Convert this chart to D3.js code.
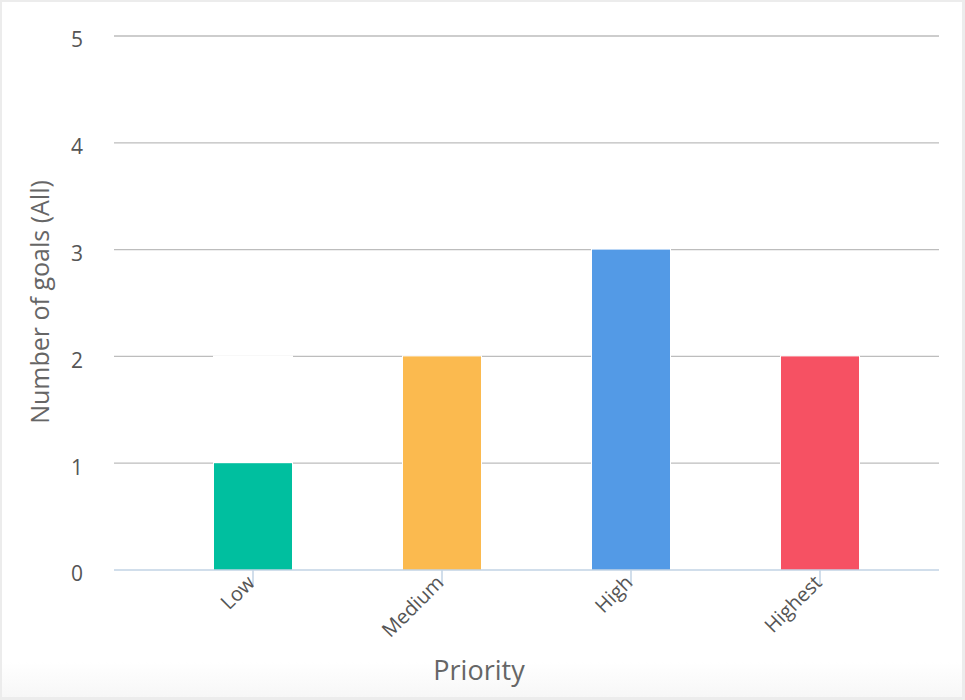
<!DOCTYPE html>
<html>
<head>
<meta charset="utf-8">
<script src="https://cdn.jsdelivr.net/npm/d3@7"></script>
<style>
  html, body { margin: 0; padding: 0; background: #fff; }
  text { font-family: "Open Sans", "Noto Sans", sans-serif; }
</style>
</head>
<body>
<div id="chart"></div>
<script>
// Goals by priority
const categories = ['Low', 'Medium', 'High', 'Highest'];
const goalCounts = [1, 2, 3, 2];
// white segment stacked on top of the bars (hides the grid behind "Low")
const blankSegment = [1, 0, 0, 0];
const yTicks = [0, 1, 2, 3, 4, 5];
const barColors = ['#00bf9f', '#fbba4f', '#539ae6', '#f65163'];

function renderChart(containerSelector) {
  const W = 965, H = 700;
  const plot = { left: 114, right: 939, top: 36, bottom: 570 };

  const svg = d3.select(containerSelector)
    .append('svg')
    .attr('width', W)
    .attr('height', H);

  // background + faint frame
  const defs = svg.append('defs');
  const grad = defs.append('linearGradient')
    .attr('id', 'bottomFade').attr('x1', 0).attr('y1', 0).attr('x2', 0).attr('y2', 1);
  grad.append('stop').attr('offset', '0%').attr('stop-color', '#ffffff');
  grad.append('stop').attr('offset', '100%').attr('stop-color', '#f7f7f7');

  svg.append('rect').attr('width', W).attr('height', H).attr('fill', '#ececec');
  svg.append('rect').attr('x', 2).attr('y', 2).attr('width', W - 5).attr('height', H - 5).attr('fill', '#fff');
  svg.append('rect').attr('x', 2).attr('y', 662).attr('width', W - 5).attr('height', 35).attr('fill', 'url(#bottomFade)');

  const data = categories.map((c, i) => ({ cat: c, value: goalCounts[i], blank: blankSegment[i], color: barColors[i] }));

  const x = d3.scalePoint().domain(categories).range([253, 820]);
  const y = d3.scaleLinear().domain([0, 5]).range([plot.bottom, plot.top]);
  const barW = 78;

  // grid lines
  svg.append('g')
    .selectAll('line')
    .data(yTicks.filter(d => d > 0))
    .join('line')
    .attr('x1', plot.left).attr('x2', plot.right)
    .attr('y1', d => y(d)).attr('y2', d => y(d))
    .attr('stroke', '#bdbdbd')
    .attr('stroke-width', 1.3);

  // y tick labels
  svg.append('g')
    .selectAll('text')
    .data(yTicks)
    .join('text')
    .attr('x', 83)
    .attr('y', d => y(d) + 4)
    .attr('dy', '0.35em')
    .attr('text-anchor', 'end')
    .attr('fill', '#555')
    .style('font-size', '21px')
    .text(d => d);

  // blank (white) segment above bars
  svg.append('g')
    .selectAll('rect')
    .data(data.filter(d => d.blank > 0))
    .join('rect')
    .attr('x', d => x(d.cat) - barW / 2)
    .attr('y', d => y(d.value + d.blank))
    .attr('width', barW)
    .attr('height', d => y(d.value) - y(d.value + d.blank))
    .attr('fill', '#fff')
    .attr('stroke', '#fff')
    .attr('stroke-width', 2);

  // bars
  svg.append('g')
    .selectAll('rect')
    .data(data)
    .join('rect')
    .attr('x', d => x(d.cat) - barW / 2)
    .attr('y', d => y(d.value))
    .attr('width', barW)
    .attr('height', d => y(0) - y(d.value))
    .attr('fill', d => d.color)
    .attr('stroke', '#fff')
    .attr('stroke-width', 2)
    .attr('paint-order', 'stroke');

  // baseline + x ticks
  svg.append('line')
    .attr('x1', plot.left).attr('x2', plot.right)
    .attr('y1', y(0)).attr('y2', y(0))
    .attr('stroke', '#c2d3e4')
    .attr('stroke-width', 1.5);

  const xAxis = svg.append('g');
  xAxis.selectAll('line')
    .data(categories)
    .join('line')
    .attr('x1', d => x(d)).attr('x2', d => x(d))
    .attr('y1', y(0)).attr('y2', y(0) + 17)
    .attr('stroke', '#c2d3e4')
    .attr('stroke-width', 1.5);

  xAxis.selectAll('text')
    .data(categories)
    .join('text')
    .attr('transform', d => `translate(${x(d) - 2},${y(0) + 9}) rotate(-45)`)
    .attr('text-anchor', 'end')
    .attr('dy', '0.35em')
    .attr('fill', '#555')
    .style('font-size', '20px')
    .text(d => d);

  // axis titles
  svg.append('text')
    .attr('transform', 'translate(49,302) rotate(-90)')
    .attr('text-anchor', 'middle')
    .attr('fill', '#666')
    .style('font-size', '25px')
    .text('Number of goals (All)');

  svg.append('text')
    .attr('x', 479)
    .attr('y', 680)
    .attr('text-anchor', 'middle')
    .attr('fill', '#666')
    .style('font-size', '27px')
    .text('Priority');
}

renderChart('#chart');
</script>
</body>
</html>
